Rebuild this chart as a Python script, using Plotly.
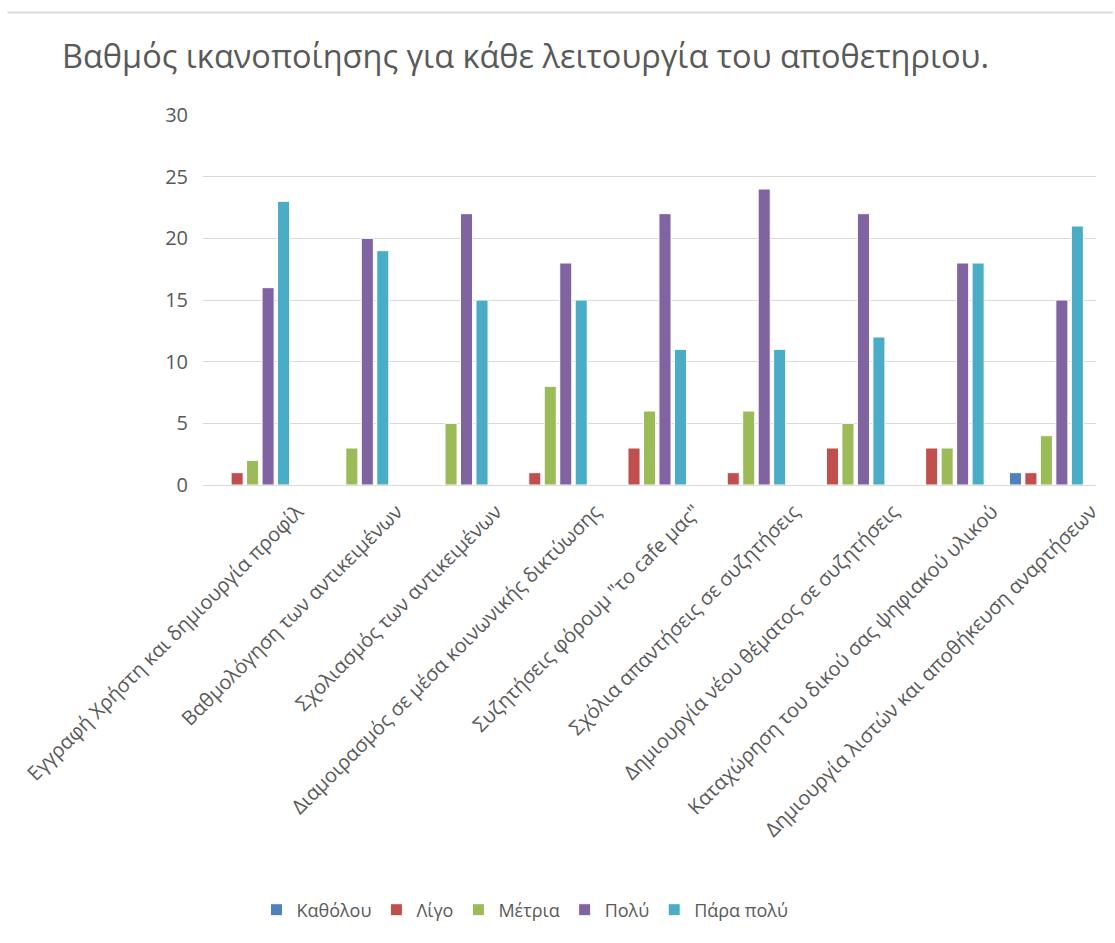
import plotly.graph_objects as go

# Survey results: satisfaction level per repository feature
categories = [
    "Εγγραφή Χρήστη και δημιουργία προφίλ",
    "Βαθμολόγηση των αντικειμένων",
    "Σχολιασμός των αντικειμένων",
    "Διαμοιρασμός σε μέσα κοινωνικής δικτύωσης",
    "Συζητήσεις φόρουμ \"το cafe μας\"",
    "Σχόλια απαντήσεις σε συζητήσεις",
    "Δημιουργία νέου θέματος σε συζητήσεις",
    "Καταχώρηση του δικού σας ψηφιακού υλικού",
    "Δημιουργία λιστών και αποθήκευση αναρτήσεων",
]

series_names = ["Καθόλου", "Λίγο", "Μέτρια", "Πολύ", "Πάρα πολύ"]

katholou = [0, 0, 0, 0, 0, 0, 0, 0, 1]
ligo = [1, 0, 0, 1, 3, 1, 3, 3, 1]
metria = [2, 3, 5, 8, 6, 6, 5, 3, 4]
poly = [16, 20, 22, 18, 22, 24, 22, 18, 15]
para_poly = [23, 19, 15, 15, 11, 11, 12, 18, 21]

y_ticks = [0, 5, 10, 15, 20, 25, 30]

series_values = [katholou, ligo, metria, poly, para_poly]
colors = ["#4F81BD", "#C0504D", "#9BBB59", "#8064A2", "#4BACC6"]

text_color = "#595959"
font_family = "Open Sans, DejaVu Sans, sans-serif"

fig = go.Figure()
for name, vals, col in zip(series_names, series_values, colors):
    fig.add_trace(go.Bar(
        name=name,
        x=categories,
        y=vals,
        marker=dict(color=col, line=dict(color="white", width=1)),
    ))

W, H = 1115, 943
ml, mr, mt, mb = 203, 17, 115, 458
plot_h = H - mt - mb
plot_w = W - ml - mr

fig.update_layout(
    width=W,
    height=H,
    margin=dict(l=ml, r=mr, t=mt, b=mb, pad=0),
    paper_bgcolor="white",
    plot_bgcolor="white",
    barmode="group",
    bargap=0.22,
    bargroupgap=0.22,
    font=dict(family=font_family, color=text_color),
    title=dict(
        text="Βαθμός ικανοποίησης για κάθε λειτουργία του αποθετηριου.",
        x=62 / W,
        xanchor="left",
        xref="container",
        y=1 - 57 / H,
        yanchor="middle",
        yref="container",
        font=dict(size=32.5, color=text_color, family=font_family),
    ),
    legend=dict(
        orientation="h",
        xref="container",
        yref="container",
        x=525 / W,
        xanchor="center",
        y=1 - 910 / H,
        yanchor="middle",
        font=dict(size=18, color=text_color),
        itemwidth=30,
        tracegroupgap=0,
    ),
    xaxis=dict(
        tickangle=-45,
        tickfont=dict(size=20, color=text_color),
        showgrid=False,
        showline=True,
        linecolor="#D9D9D9",
        linewidth=1,
        ticks="",
        ticklabelshift=45,
        ticklabelstandoff=6,
    ),
    yaxis=dict(
        range=[0, 30],
        tickvals=y_ticks,
        tickfont=dict(size=20, color=text_color),
        showgrid=True,
        gridcolor="#D9D9D9",
        gridwidth=1,
        zeroline=False,
        showline=False,
        ticks="",
        ticklabelstandoff=14,
    ),
    shapes=[
        dict(
            type="line",
            xref="paper",
            yref="paper",
            x0=(7 - ml) / plot_w,
            x1=(W - ml) / plot_w,
            y0=1 + (mt - 12.5) / plot_h,
            y1=1 + (mt - 12.5) / plot_h,
            line=dict(color="#D9D9D9", width=2),
        )
    ],
)

fig.write_html("out.html")
